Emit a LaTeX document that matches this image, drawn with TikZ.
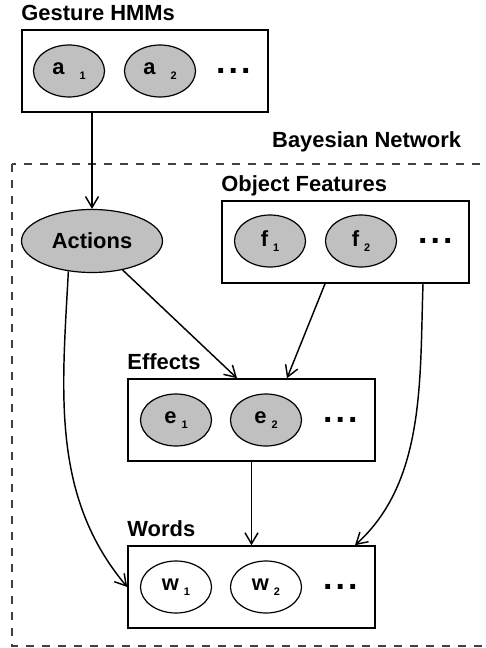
\documentclass[tikz,border=0pt]{standalone}
\usepackage{fontspec}
\setmainfont{Liberation Sans}
\usetikzlibrary{shapes.geometric,arrows.meta}
\definecolor{varfill}{RGB}{192,192,192}
\newcommand{\bigfont}{\fontsize{22}{26}\selectfont\bfseries}
\newcommand{\idx}[3][5bp]{#2\hspace{#1}\raisebox{-5bp}{\fontsize{11}{12}\selectfont\bfseries #3}}
\newcommand{\moredots}{.\hspace{3bp}.\hspace{3bp}.}
\tikzset{
	>={Straight Barb[length=11bp,width=13bp]},% open arrow heads
	var/.style ={ellipse, draw, line width=1.2bp, fill=varfill, minimum width=71bp, minimum height=52bp, inner sep=0pt, font=\bigfont}, % hidden variable
	obs/.style ={var, fill=white}, % observed variable
	plate/.style={rectangle, draw, line width=1.6bp, minimum width=247bp, minimum height=82bp, inner sep=0pt},
	title/.style={anchor=base west, inner sep=0pt, font=\bigfont},
	dots/.style={anchor=base west, inner sep=0pt, font=\fontsize{34}{36}\selectfont\bfseries},
	link/.style={->, line width=1.45bp}
}
\begin{document}
\begin{tikzpicture}[x=1bp, y=-1bp]
	\useasboundingbox (0,0) rectangle (486,648);
	\clip (0,0) rectangle (486,648);
	% bayesian network frame
	\draw[black!75, line width=1.2bp, dash pattern=on 8bp off 8bp] (12,164) rectangle (500,646);
	\node[title] (bn) at (272,148) {Bayesian Network};
	% plates
	\node[plate, minimum width=246bp] (gest) at (145,71) {};
	\node[plate] (obj) at (345.5,242) {};
	\node[plate] (eff) at (251.5,420) {};
	\node[plate] (wrd) at (251.5,587) {};
	\node[title] at ([yshift=9bp]gest.north west) {Gesture HMMs};
	\node[title] at ([yshift=9bp]obj.north west) {Object Features};
	\node[title] at ([yshift=9bp]eff.north west) {Effects};
	\node[title] at ([yshift=9bp]wrd.north west) {Words};
	% variables
	\node[var] (a1) at (69,71) {\idx[15bp]{a}{1}};
	\node[var] (a2) at (160,71) {\idx[15bp]{a}{2}};
	\node[dots] at (216,73.5) {\moredots};
	\node[var, minimum width=141bp, minimum height=63bp] (act) at (92,241) {Actions};
	\node[var] (f1) at (270,241) {\idx{f}{1}};
	\node[var] (f2) at (361,241) {\idx{f}{2}};
	\node[dots] at (418,243.5) {\moredots};
	\node[var] (e1) at (176,420) {\idx{e}{1}};
	\node[var] (e2) at (266,420) {\idx{e}{2}};
	\node[dots] at (323,422.5) {\moredots};
	\node[obs] (w1) at (176,587) {\idx{w}{1}};
	\node[obs] (w2) at (266,587) {\idx{w}{2}};
	\node[dots] at (323,589.5) {\moredots};
	% dependencies
	\draw[link] (act |- gest.south) -- (act.north);
	\draw[link] (act) -- ([xshift=-14.5bp]eff.north);
	\draw[link] ([xshift=-20.5bp]obj.south) -- ([xshift=35.5bp]eff.north);
	\draw[link] (eff.south) -- (wrd.north);
	\draw[link] (act.232) to[out=-93, in=130, looseness=0.95] (wrd.west);
	\draw[link] ([xshift=77.5bp]obj.south) to[out=-92, in=42, looseness=0.9] ([xshift=103.5bp]wrd.north);
\end{tikzpicture}
\end{document}
